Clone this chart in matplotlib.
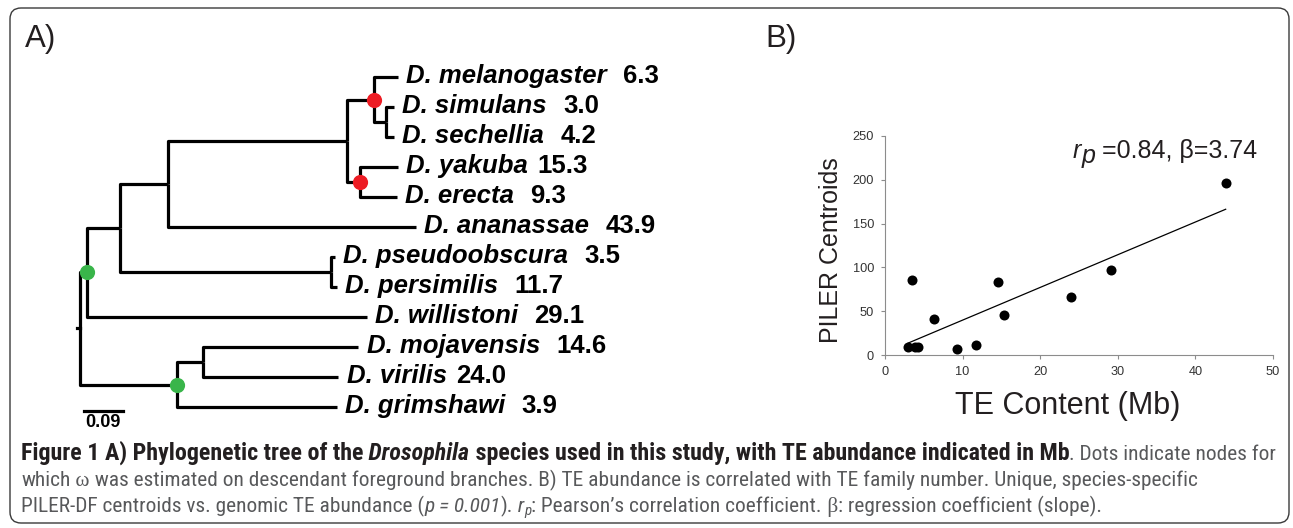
import numpy as np
import matplotlib
matplotlib.use("Agg")
import matplotlib.pyplot as plt
import matplotlib.font_manager as fm
from matplotlib.patches import FancyBboxPatch
from matplotlib.transforms import IdentityTransform

plt.rcParams['font.family'] = ['Liberation Sans', 'DejaVu Sans']

# ---------------- data ----------------
species = ["D. melanogaster", "D. simulans", "D. sechellia", "D. yakuba", "D. erecta",
           "D. ananassae", "D. pseudoobscura", "D. persimilis", "D. willistoni",
           "D. mojavensis", "D. virilis", "D. grimshawi"]
te_content_mb = [6.3, 3.0, 4.2, 15.3, 9.3, 43.9, 3.5, 11.7, 29.1, 14.6, 24.0, 3.9]
te_labels = ["6.3", "3.0", "4.2", "15.3", "9.3", "43.9", "3.5", "11.7", "29.1", "14.6", "24.0", "3.9"]
label_gap_spaces = [2, 2, 2, 1, 2, 2, 2, 2, 2, 2, 1, 2]
piler_centroids = [41, 9, 9, 46, 7, 196, 86, 11, 97, 83, 66, 9]

# tree topology (internal nodes listed parents first) and branch lengths (substitutions/site)
internal_nodes = ["root", "E", "D", "C", "H", "I", "J", "K", "O", "F", "G"]
internal_parent = [None, "root", "E", "D", "C", "H", "I", "H", "D", "root", "F"]
internal_branch = [0.007, 0.016, 0.076, 0.111, 0.413, 0.062, 0.028, 0.030, 0.487, 0.224, 0.060]
tip_parent = ["I", "J", "J", "K", "K", "C", "O", "O", "E", "G", "G", "F"]
tip_branch = [0.055, 0.018, 0.018, 0.088, 0.085, 0.572, 0.009, 0.014, 0.646, 0.358, 0.312, 0.369]
marked_nodes = ["I", "K", "E", "F"]
marked_colors = ["#ED1C24", "#ED1C24", "#39B54A", "#39B54A"]
scale_bar_length = 0.09
scale_bar_label = "0.09"

# ---------------- fonts ----------------
def _wnum(w):
    if isinstance(w, str):
        return fm.weight_dict.get(w, 400)
    return int(w)

def _ok(entries):
    v = set()
    for e in entries:
        v.add(("b" if _wnum(e.weight) >= 600 else "r", e.style in ("italic", "oblique")))
    return ("r", False) in v and ("b", False) in v and ("r", True) in v

def pick_condensed():
    by_name = {}
    for f in fm.fontManager.ttflist:
        by_name.setdefault(f.name, []).append(f)
    for p in ["Noto Sans Condensed", "Roboto Condensed", "Open Sans Condensed",
              "Liberation Sans Narrow", "DejaVu Sans Condensed"]:
        if p in by_name and _ok(by_name[p]):
            return p, "normal"
    for fam in ["Noto Sans", "Open Sans", "Roboto", "DejaVu Sans"]:
        ents = [e for e in by_name.get(fam, []) if "condensed" in str(e.stretch)]
        if ents and _ok(ents):
            return fam, "condensed"
    return "Liberation Sans", "normal"

CAP_NAME, CAP_STRETCH = pick_condensed()
CAP_FAM = [CAP_NAME, "Liberation Sans", "DejaVu Sans"]

# ---------------- figure ----------------
W, H, DPI = 1293, 528, 100
fig = plt.figure(figsize=(W / DPI, H / DPI), dpi=DPI)
fig.patch.set_facecolor("white")
renderer = fig.canvas.get_renderer()
TXT = "#231f20"

border = FancyBboxPatch((10, 5), 1279, 515, boxstyle="round,pad=0,rounding_size=11",
                        transform=IdentityTransform(), fill=False, ec="#3a3a3a", lw=1.0)
fig.add_artist(border)

fig.text(25 / W, 1 - 47 / H, "A)", fontsize=22.5, color=TXT, va="baseline")
fig.text(765 / W, 1 - 47 / H, "B)", fontsize=22.5, color=TXT, va="baseline")

# ---------------- panel A: tree ----------------
PX_PER_UNIT = 39 / 0.09
axA = fig.add_axes([60 / W, 1 - 437 / H, 640 / W, 390 / H])
axA.set_xlim(-20 / PX_PER_UNIT, 620 / PX_PER_UNIT)
axA.set_ylim(12, -1)
axA.axis("off")

xpos = {"root": 0.0}
children = {n: [] for n in internal_nodes}
for n, p, b in zip(internal_nodes[1:], internal_parent[1:], internal_branch[1:]):
    xpos[n] = xpos[p] + b
    children[p].append(n)
for s, p, b in zip(species, tip_parent, tip_branch):
    xpos[s] = xpos[p] + b
    children[p].append(s)

ypos = {s: i for i, s in enumerate(species)}
def node_y(n):
    if n not in ypos:
        ys = [node_y(c) for c in children[n]]
        ypos[n] = (min(ys) + max(ys)) / 2
    return ypos[n]
node_y("root")

LW = 2.3
for n in internal_nodes:
    for c in children[n]:
        axA.plot([xpos[n], xpos[n], xpos[c]], [ypos[n], ypos[c], ypos[c]], color="black",
                 lw=LW, solid_joinstyle="round", solid_capstyle="butt", clip_on=False)
axA.plot([xpos["root"] - internal_branch[0], xpos["root"]], [ypos["root"]] * 2,
         color="black", lw=LW, clip_on=False)

for n, col in zip(marked_nodes, marked_colors):
    axA.scatter([xpos[n]], [ypos[n]], s=120, color=col, zorder=5, linewidths=0, clip_on=False)

NAME_SIZE = 18.5
to_pt = 72 / DPI
for s, lab, gap in zip(species, te_labels, label_gap_spaces):
    t = axA.annotate(s, xy=(xpos[s], ypos[s]), xytext=(6, -4.3), textcoords="offset points",
                     fontsize=NAME_SIZE, fontweight="bold", fontstyle="italic",
                     color="black", va="baseline", ha="left")
    w = t.get_window_extent(renderer).width
    sp = NAME_SIZE * 0.278 / to_pt * gap
    axA.annotate(lab, xy=(xpos[s], ypos[s]), xytext=(6 + (w + sp + 2) * to_pt, -4.3),
                 textcoords="offset points", fontsize=NAME_SIZE, fontweight="bold",
                 color="black", va="baseline", ha="left")

sb_y = len(species) - 1 + 4 / 30
sb_x0 = 0.009
axA.plot([sb_x0, sb_x0 + scale_bar_length], [sb_y, sb_y], color="black", lw=LW, clip_on=False)
axA.annotate(scale_bar_label, xy=(sb_x0 + scale_bar_length / 2, sb_y), xytext=(0, -2),
             textcoords="offset points", ha="center", va="top", fontsize=13,
             fontweight="bold", color="black")

# ---------------- panel B: scatter ----------------
axB = fig.add_axes([885 / W, 1 - 355 / H, 388 / W, 219 / H])
x = np.array(te_content_mb)
y = np.array(piler_centroids)
axB.scatter(x, y, s=52, color="black", zorder=3, clip_on=False, linewidths=0)
slope, intercept = np.polyfit(x, y, 1)
xs = np.array([x.min(), x.max()])
axB.plot(xs, slope * xs + intercept, color="black", lw=0.9)
axB.set_xlim(0, 50)
axB.set_ylim(0, 250)
axB.set_xticks(range(0, 51, 10))
axB.set_yticks(range(0, 251, 50))
for sp_ in ["top", "right"]:
    axB.spines[sp_].set_visible(False)
for sp_ in ["left", "bottom"]:
    axB.spines[sp_].set_color("#8c8c8c")
    axB.spines[sp_].set_linewidth(0.8)
axB.tick_params(direction="out", length=3, width=0.8, color="#8c8c8c",
                labelsize=9.2, labelcolor="#333333", pad=5)
axB.text(-0.139, 0.479, "PILER Centroids", rotation=90, ha="center", va="center",
         transform=axB.transAxes, fontsize=18, color=TXT)
axB.text(0.47, (355 - 414) / 219, "TE Content (Mb)", ha="center", va="baseline",
         transform=axB.transAxes, fontsize=22, color=TXT)

def draw_segments(x_px, y_px, segs, sizes, measure=False):
    texts = []
    for txt, props, kind, scale, dy in segs:
        t = fig.text(x_px / W, 1 - (y_px + dy) / H, txt, fontsize=sizes[kind] * scale,
                     ha="left", va="baseline", **props)
        x_px += t.get_window_extent(renderer).width
        texts.append(t)
    if measure:
        for t in texts:
            t.remove()
    return x_px

ann_it = dict(style="italic", color=TXT)
ann_rg = dict(color=TXT)
draw_segments(1073, 158, [("r", ann_it, "b", 1, 0), ("p", ann_it, "b", 1, 5),
                          (" =0.84, β=3.74", ann_rg, "b", 1, 0)], {"b": 18})

# ---------------- caption ----------------
GRAY = "#58595b"
bold = dict(family=CAP_FAM, weight="bold", color=TXT, stretch=CAP_STRETCH)
boldit = dict(family=CAP_FAM, weight="bold", style="italic", color=TXT, stretch=CAP_STRETCH)
reg = dict(family=CAP_FAM, weight="normal", color=GRAY, stretch=CAP_STRETCH)
ital = dict(family=CAP_FAM, weight="normal", style="italic", color=GRAY, stretch=CAP_STRETCH)
serif = dict(family=["Liberation Serif", "DejaVu Serif"], color=GRAY)

line1_bold = [("Figure 1 A) Phylogenetic tree of the", bold, "b", 1, 0),
              (" Drosophila", boldit, "b", 1, 0),
              (" species used in this study, with TE abundance indicated in Mb", bold, "b", 1, 0)]
line1_reg = [(". Dots indicate nodes for", reg, "r", 1, 0)]
line2 = [("which", reg, "r", 1, 0), (" ω", serif, "r", 1, 0),
         (" was estimated on descendant foreground branches. B) TE abundance is correlated "
          "with TE family number. Unique, species-specific", reg, "r", 1, 0)]
line3 = [("PILER-DF centroids vs. genomic TE abundance (", reg, "r", 1, 0),
         ("p = 0.001", ital, "r", 1, 0), (").", reg, "r", 1, 0), (" r", ital, "r", 1, 0),
         ("p", ital, "r", 0.7, 3), (": Pearson’s correlation coefficient.", reg, "r", 1, 0),
         (" β", serif, "r", 1, 0), (": regression coefficient (slope).", reg, "r", 1, 0)]

cap_left, line1_right, line2_right = 21, 1277, 1190
unit = {"b": 10, "r": 10}
wb = draw_segments(0, 0, line1_bold, unit, measure=True) / 10
wr1 = draw_segments(0, 0, line1_reg, unit, measure=True) / 10
wr2 = draw_segments(0, 0, line2, unit, measure=True) / 10
size_r = (line2_right - cap_left) / wr2
size_b = (line1_right - cap_left - wr1 * size_r) / wb
sizes = {"b": size_b, "r": size_r}
draw_segments(cap_left, 460, line1_bold + line1_reg, sizes)
draw_segments(cap_left, 486, line2, sizes)
draw_segments(cap_left, 512, line3, sizes)

fig.savefig("out.png", dpi=DPI, facecolor="white")
